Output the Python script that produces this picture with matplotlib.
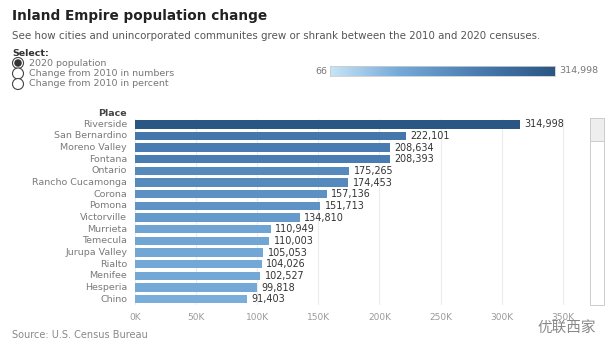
import matplotlib.pyplot as plt
from matplotlib.colors import LinearSegmentedColormap, Normalize
from matplotlib.patches import Ellipse, Rectangle
import numpy as np

plt.rcParams['font.family'] = ['DejaVu Sans', 'Noto Sans CJK SC']

places = ['Riverside', 'San Bernardino', 'Moreno Valley', 'Fontana', 'Ontario',
          'Rancho Cucamonga', 'Corona', 'Pomona', 'Victorville', 'Murrieta',
          'Temecula', 'Jurupa Valley', 'Rialto', 'Menifee', 'Hesperia', 'Chino']
population = [314998, 222101, 208634, 208393, 175265, 174453, 157136, 151713,
              134810, 110949, 110003, 105053, 104026, 102527, 99818, 91403]
xticks = [0, 50000, 100000, 150000, 200000, 250000, 300000, 350000]
xtick_labels = ['0K', '50K', '100K', '150K', '200K', '250K', '300K', '350K']
scale_min, scale_max = 66, 314998
options = ['2020 population', 'Change from 2010 in numbers', 'Change from 2010 in percent']

W, H = 614, 348
fig = plt.figure(figsize=(W / 100, H / 100), dpi=100)
fig.patch.set_facecolor('white')

cmap = LinearSegmentedColormap.from_list(
    'tab_blue', [(0, '#c8e4f7'), (0.3, '#76abd9'), (0.65, '#4a7db2'), (1, '#2a5684')])
norm = Normalize(scale_min, scale_max)


def fx(px):
    return px / W


def fy(py):
    return 1 - py / H


# main bar chart
ax = fig.add_axes([fx(135), fy(305), fx(440), (305 - 118.5) / H])
y = np.arange(len(places))
ax.barh(y, population, height=0.72, color=cmap(norm(np.array(population))), zorder=2)
for yi, v in zip(y, population):
    ax.text(v + 3500, yi, f'{v:,}', va='center', ha='left', fontsize=6.9, color='#333333')
ax.set_ylim(len(places) - 0.5, -0.5)
ax.set_xlim(0, 360000)
ax.set_yticks([])
ax.set_xticks(xticks)
ax.set_xticklabels(xtick_labels, fontsize=6.5, color='#9a9a9a')
ax.tick_params(axis='x', length=0, pad=6)
ax.grid(axis='x', color='#ececec', linewidth=0.8, zorder=0)
for s in ax.spines.values():
    s.set_visible(False)

# place labels
for yi, name in zip(y, places):
    ax.text(-0.018, yi, name, transform=ax.get_yaxis_transform(), ha='right',
            va='center', fontsize=6.8, color='#7a7a7a')
fig.text(fx(127), fy(113), 'Place', ha='right', va='center', fontsize=6.8,
         fontweight='bold', color='#444444')

# titles
fig.text(fx(12), fy(16), 'Inland Empire population change', fontsize=9.8,
         fontweight='bold', color='#222222', va='center')
fig.text(fx(12), fy(36), 'See how cities and unincorporated communites grew or shrank '
         'between the 2010 and 2020 censuses.', fontsize=7.4, color='#555555', va='center')
fig.text(fx(12), fy(53), 'Select:', fontsize=6.8, fontweight='bold', color='#333333', va='center')

# radio buttons
for i, opt in enumerate(options):
    cy = 63 + i * 10.5
    fig.patches.append(Ellipse((fx(18), fy(cy)), 11 / W, 11 / H, transform=fig.transFigure,
                               facecolor='white', edgecolor='#444444', linewidth=0.8))
    if i == 0:
        fig.patches.append(Ellipse((fx(18), fy(cy)), 7.5 / W, 7.5 / H, transform=fig.transFigure,
                                   facecolor='#333333', edgecolor='none'))
    fig.text(fx(29), fy(cy), opt, fontsize=6.8, color='#777777', va='center')

# colour legend
cax = fig.add_axes([fx(330), fy(76), fx(225), 10 / H])
cax.imshow(np.linspace(0, 1, 256)[None, :], aspect='auto', cmap=cmap)
cax.set_xticks([])
cax.set_yticks([])
for s in cax.spines.values():
    s.set_color('#cccccc')
    s.set_linewidth(0.6)
fig.text(fx(327), fy(71), f'{scale_min}', ha='right', va='center', fontsize=6.8, color='#777777')
fig.text(fx(559), fy(71), f'{scale_max:,}', ha='left', va='center', fontsize=6.8, color='#777777')

# scrollbar
fig.patches.append(Rectangle((fx(590), fy(305)), fx(14), (305 - 118) / H, transform=fig.transFigure,
                             facecolor='white', edgecolor='#cccccc', linewidth=0.7))
fig.patches.append(Rectangle((fx(590), fy(141)), fx(14), 23 / H, transform=fig.transFigure,
                             facecolor='#eeeeee', edgecolor='#cccccc', linewidth=0.7))

# footer
fig.text(fx(12), fy(335), 'Source: U.S. Census Bureau', fontsize=7, color='#888888', va='center')
fig.text(fx(596), fy(328), '优联西家', fontsize=10.5, color='#888888', ha='right', va='center',
         family=['Noto Sans CJK SC', 'DejaVu Sans'])

fig.savefig('out.png', dpi=100)
